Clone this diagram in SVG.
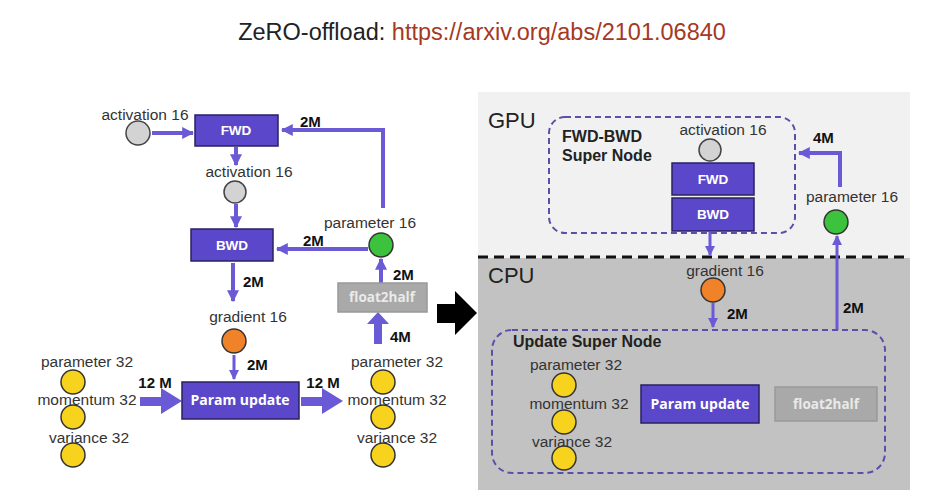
<svg xmlns="http://www.w3.org/2000/svg" width="930" height="504" viewBox="0 0 930 504">
<defs>
<marker id="ah" viewBox="0 0 10 10" refX="9" refY="5" markerWidth="12" markerHeight="12" markerUnits="userSpaceOnUse" orient="auto">
<path d="M0,0 L10,5 L0,10 z" fill="#6b5ad6"/>
</marker>
<marker id="ahs" viewBox="0 0 10 10" refX="9" refY="5" markerWidth="10" markerHeight="10" markerUnits="userSpaceOnUse" orient="auto">
<path d="M0,0 L10,5 L0,10 z" fill="#6b5ad6"/>
</marker>
<style>
text{font-family:"Liberation Sans",Arial,sans-serif}
.lbl{font-size:15.5px;fill:#333;text-anchor:middle}
.num{font-size:15px;font-weight:bold;fill:#111}
.box{fill:#5b47c9;stroke:#2a2060;stroke-width:1.5}
.btxt{font-size:13.5px;font-weight:bold;fill:#fff;text-anchor:middle}
.gbox{fill:#a9a9a9;stroke:#999;stroke-width:1.5}
.gtxt{font-family:"Open Sans","Liberation Sans",sans-serif;font-size:13.5px;font-weight:bold;fill:#eaeaea;text-anchor:middle}
.ptxt{font-family:"Open Sans","Liberation Sans",sans-serif;font-size:14px;font-weight:bold;fill:#fff;text-anchor:middle}
.gray{fill:#d3d3d3;stroke:#444;stroke-width:1.5}
.green{fill:#3cc23c;stroke:#333;stroke-width:1.5}
.orange{fill:#f0822a;stroke:#333;stroke-width:1.5}
.yellow{fill:#f7d31e;stroke:#333;stroke-width:1.5}
.c{fill:none;stroke:#6b5ad6;stroke-width:4}
.cs{fill:none;stroke:#6b5ad6;stroke-width:3}
.thick{fill:#6b5ad6}
.sn{fill:none;stroke:#5b4fa8;stroke-width:2;stroke-dasharray:6 4}
.title{font-size:23.5px;fill:#222}
</style>
</defs>
<rect width="930" height="504" fill="#fff"/>
<text x="482" y="40" class="title" text-anchor="middle">ZeRO-offload: <tspan fill="#a5391f">https://arxiv.org/abs/2101.06840</tspan></text>

<!-- right panel backgrounds -->
<rect x="478" y="92" width="432" height="166" fill="#f1f1f1"/>
<rect x="478" y="258" width="432" height="232" fill="#c2c2c2"/>
<line x1="478" y1="257" x2="910" y2="257" stroke="#111" stroke-width="3" stroke-dasharray="10 6"/>
<text x="488" y="128" font-size="22" fill="#222">GPU</text>
<text x="488" y="283" font-size="22" fill="#222">CPU</text>

<!-- big arrow -->
<polygon points="437,304 455,304 455,291 477,313 455,335 455,323 437,323" fill="#000"/>

<!-- connectors -->
<g id="connectors">
<line x1="152" y1="133" x2="193" y2="133" class="c" marker-end="url(#ah)"/>
<polyline points="383,208 383,130 282,130" class="c" marker-end="url(#ah)"/>
<line x1="236" y1="147" x2="236" y2="165" class="c" marker-end="url(#ah)"/>
<line x1="236" y1="204" x2="236" y2="227" class="c" marker-end="url(#ah)"/>
<line x1="368" y1="249" x2="277" y2="249" class="c" marker-end="url(#ah)"/>
<line x1="233" y1="263" x2="233" y2="301" class="c" marker-end="url(#ah)"/>
<line x1="381" y1="283" x2="381" y2="259" class="c" marker-end="url(#ah)"/>
<line x1="234" y1="355" x2="234" y2="379" class="cs" marker-end="url(#ahs)"/>
<polygon class="thick" points="378,312 389,324 382,324 382,344 374,344 374,324 367,324"/>
<polygon class="thick" points="140,397 161,397 161,388 182,401 161,414 161,406 140,406"/>
<polygon class="thick" points="301,397 322,397 322,388 343,401 322,414 322,406 301,406"/>
<line x1="710" y1="232" x2="710" y2="255" class="cs" marker-end="url(#ahs)"/>
<line x1="713" y1="303" x2="713" y2="327" class="cs" marker-end="url(#ahs)"/>
<line x1="837" y1="330" x2="837" y2="236" class="cs" marker-end="url(#ahs)"/>
<polyline points="840,187 840,153 799,153" class="c" marker-end="url(#ah)"/>
</g>

<!-- connector labels -->
<g id="edge-labels">
<text x="300" y="127" class="num">2M</text>
<text x="303" y="246" class="num">2M</text>
<text x="243" y="287" class="num">2M</text>
<text x="393" y="280" class="num">2M</text>
<text x="390" y="342" class="num">4M</text>
<text x="247" y="370" class="num">2M</text>
<text x="155" y="388" class="num" text-anchor="middle">12 M</text>
<text x="323" y="388" class="num" text-anchor="middle">12 M</text>
<text x="813" y="143" class="num">4M</text>
<text x="727" y="319" class="num">2M</text>
<text x="843" y="313" class="num">2M</text>
</g>

<!-- left diagram nodes -->
<g id="act16-in"><text x="145" y="120" class="lbl">activation 16</text><circle cx="138" cy="133" r="12" class="gray"/></g>
<g id="fwd"><rect x="195" y="115" width="83" height="31" class="box"/><text x="236" y="135" class="btxt">FWD</text></g>
<g id="act16-mid"><text x="249" y="177" class="lbl">activation 16</text><circle cx="235" cy="192" r="11" class="gray"/></g>
<g id="bwd"><rect x="191" y="229" width="82" height="32" class="box"/><text x="232" y="250" class="btxt">BWD</text></g>
<g id="param16"><text x="370" y="228" class="lbl">parameter 16</text><circle cx="381" cy="245" r="12" class="green"/></g>
<g id="float2half"><rect x="338" y="283" width="89" height="29" class="gbox"/><text x="382" y="302" class="gtxt">float2half</text></g>
<g id="grad16"><text x="248" y="322" class="lbl">gradient 16</text><circle cx="234" cy="341" r="12" class="orange"/></g>
<g id="param-update"><rect x="182" y="382" width="117" height="37" class="box"/><text x="240" y="405" class="ptxt">Param update</text></g>
<g id="opt-in">
<text x="87" y="367" class="lbl">parameter 32</text><circle cx="73" cy="382" r="12" class="yellow"/>
<text x="87" y="405" class="lbl">momentum 32</text><circle cx="73" cy="417" r="12" class="yellow"/>
<text x="89" y="443" class="lbl">variance 32</text><circle cx="73" cy="455" r="12" class="yellow"/>
</g>
<g id="opt-out">
<text x="397" y="367" class="lbl">parameter 32</text><circle cx="383" cy="382" r="12" class="yellow"/>
<text x="397" y="405" class="lbl">momentum 32</text><circle cx="383" cy="417" r="12" class="yellow"/>
<text x="397" y="443" class="lbl">variance 32</text><circle cx="383" cy="455" r="12" class="yellow"/>
</g>

<!-- right diagram nodes -->
<g id="fwdbwd-super">
<rect x="549" y="117" width="246" height="116" rx="16" class="sn"/>
<text x="562" y="142" font-size="16" font-weight="bold" fill="#222">FWD-BWD</text>
<text x="562" y="161" font-size="16" font-weight="bold" fill="#222">Super Node</text>
<text x="723" y="135" class="lbl">activation 16</text>
<circle cx="710" cy="150" r="11" class="gray"/>
<rect x="672" y="163" width="82" height="32" class="box"/><text x="713" y="184" class="btxt">FWD</text>
<rect x="672" y="198" width="82" height="33" class="box"/><text x="713" y="219" class="btxt">BWD</text>
</g>
<g id="param16-r"><text x="852" y="202" class="lbl">parameter 16</text><circle cx="836" cy="222" r="12" class="green"/></g>
<g id="grad16-r"><text x="725" y="276" class="lbl">gradient 16</text><circle cx="713" cy="290" r="12" class="orange"/></g>
<g id="update-super">
<rect x="492" y="330" width="393" height="143" rx="20" class="sn"/>
<text x="513" y="347" font-size="16" font-weight="bold" fill="#222">Update Super Node</text>
<text x="576" y="370" class="lbl">parameter 32</text><circle cx="564" cy="385" r="12" class="yellow"/>
<text x="579" y="409" class="lbl">momentum 32</text><circle cx="564" cy="422" r="12" class="yellow"/>
<text x="572" y="447" class="lbl">variance 32</text><circle cx="564" cy="458" r="12" class="yellow"/>
<rect x="641" y="385" width="118" height="38" class="box"/><text x="700" y="409" class="ptxt">Param update</text>
<rect x="775" y="387" width="102" height="34" class="gbox"/><text x="826" y="409" class="gtxt">float2half</text>
</g>
</svg>
